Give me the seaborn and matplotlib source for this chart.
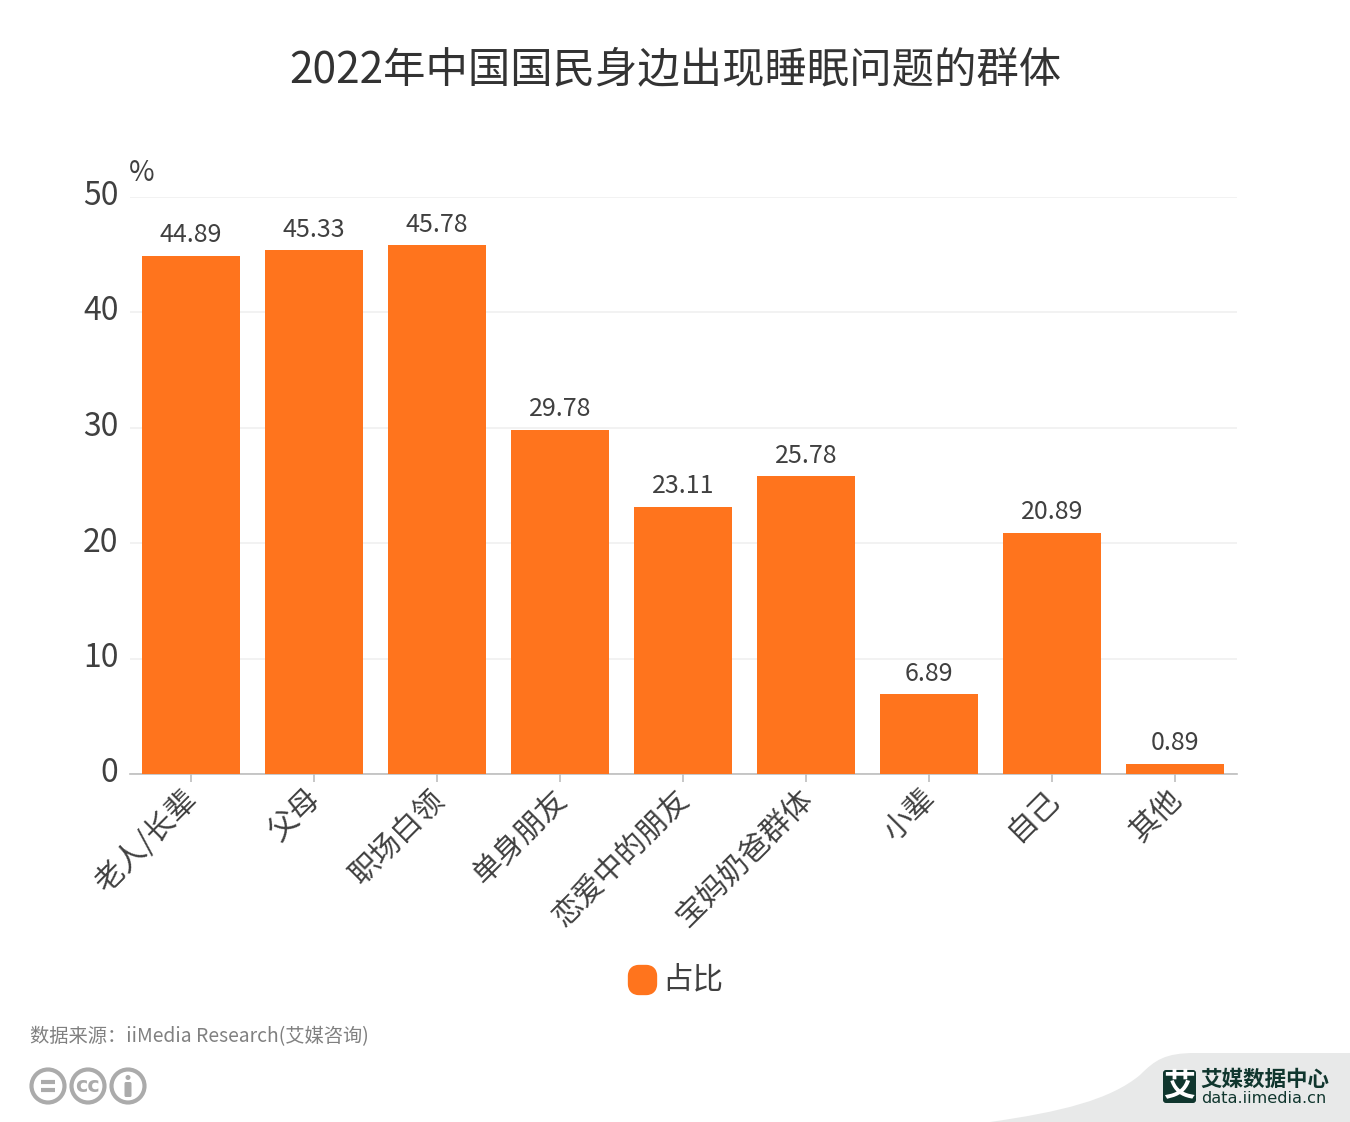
import matplotlib
matplotlib.use('Agg')
import matplotlib.pyplot as plt
from matplotlib.patches import Circle, FancyBboxPatch, PathPatch
from matplotlib.path import Path
from matplotlib.transforms import ScaledTranslation
import seaborn as sns
import pandas as pd

categories = ['老人/长辈', '父母', '职场白领', '单身朋友', '恋爱中的朋友', '宝妈奶爸群体', '小辈', '自己', '其他']
values = [44.89, 45.33, 45.78, 29.78, 23.11, 25.78, 6.89, 20.89, 0.89]
y_ticks = [0, 10, 20, 30, 40, 50]
series_name = '占比'
title = '2022年中国国民身边出现睡眠问题的群体'
source = '数据来源：iiMedia Research(艾媒咨询)'

ORANGE = '#FF741D'
TEXT = '#404040'
W, H = 1350, 1122

sns.set_style('white')
plt.rcParams['font.family'] = ['Noto Sans CJK SC', 'DejaVu Sans']

df = pd.DataFrame({'group': categories, 'value': values})

fig = plt.figure(figsize=(W / 100, H / 100), dpi=100)
ax = fig.add_axes([129.5 / W, 1 - 774 / H, (1236.5 - 129.5) / W, (774 - 196.5) / H])

sns.barplot(data=df, x='group', y='value', color=ORANGE, saturation=1, width=0.8, linewidth=0, ax=ax, zorder=3)
ax.set_xlim(-0.5, len(categories) - 0.5)
ax.set_ylim(0, 50)
ax.set_xlabel('')
ax.set_ylabel('')

# value labels
for container in ax.containers:
    ax.bar_label(container, labels=[f'{v:.2f}' for v in values], padding=5.5, fontsize=18, color=TEXT,
                 fontweight='light')

ax.set_yticks(y_ticks)
ax.yaxis.grid(True, color='#F0F0F0', lw=1.2)
ax.set_axisbelow(True)
sns.despine(ax=ax, left=True, top=True, right=True)
ax.spines['bottom'].set_color('#BDBDBD')
ax.spines['bottom'].set_linewidth(1.2)
ax.tick_params(axis='y', length=0, labelsize=23, labelcolor=TEXT, pad=8)
ax.tick_params(axis='x', bottom=True, length=6, width=1.2, color='#BDBDBD', pad=3)
ax.set_xticks(range(len(categories)))
ax.set_xticklabels(categories, rotation=45, ha='right', va='top', rotation_mode='anchor',
                   fontsize=21.5, color=TEXT, fontweight='light')

# labels sit a bit off from where matplotlib puts them
for lab in ax.get_yticklabels():
    lab.set_fontweight('light')
    lab.set_transform(lab.get_transform() + ScaledTranslation(0, 4 / 100, fig.dpi_scale_trans))
for lab in ax.get_xticklabels():
    lab.set_transform(lab.get_transform() + ScaledTranslation(-9 / 100, 3 / 100, fig.dpi_scale_trans))

# overlay in pixel coordinates for everything outside the plot
ov = fig.add_axes([0, 0, 1, 1], zorder=5)
ov.set_xlim(0, W)
ov.set_ylim(H, 0)
ov.axis('off')
ov.patch.set_alpha(0)

ov.text(675, 70, title, ha='center', va='center', fontsize=30.5, color='#333333', fontweight='light')
ov.text(142, 173, '%', ha='center', va='center', fontsize=20, color=TEXT, fontweight='light')

# legend
ov.add_patch(FancyBboxPatch((632, 969), 21, 22, boxstyle='round,pad=0,rounding_size=7',
                            mutation_aspect=1, fc=ORANGE, ec=ORANGE, lw=6, joinstyle='round'))
ov.text(662, 980, series_name, ha='left', va='center', fontsize=22, color=TEXT, fontweight='light')

ov.text(30, 1037, source, ha='left', va='center', fontsize=13.9, color='#808080', fontweight='light')

# licence icons
GREY = '#ABABAB'
for cx in (48, 88, 128):
    ov.add_patch(Circle((cx, 1086), 16.5, fc='white', ec=GREY, lw=3))
ov.plot([41, 55], [1082, 1082], color=GREY, lw=3, solid_capstyle='butt')
ov.plot([41, 55], [1090, 1090], color=GREY, lw=3, solid_capstyle='butt')
ov.text(88, 1086, 'cc', ha='center', va='center', fontsize=15, color=GREY,
        family='DejaVu Sans', fontweight='bold')
ov.add_patch(Circle((128, 1077.5), 2.5, fc=GREY, ec='none'))
ov.add_patch(FancyBboxPatch((124.5, 1082), 7, 15, boxstyle='round,pad=0,rounding_size=1.5', fc=GREY, ec='none'))

# watermark swoosh
swoosh = Path(
    [(990, 1122), (1060, 1112), (1110, 1100), (1140, 1075), (1155, 1060), (1165, 1053), (1195, 1053),
     (1350, 1053), (1350, 1122), (990, 1122)],
    [Path.MOVETO, Path.CURVE4, Path.CURVE4, Path.CURVE4, Path.CURVE4, Path.CURVE4, Path.CURVE4,
     Path.LINETO, Path.LINETO, Path.CLOSEPOLY])
ov.add_patch(PathPatch(swoosh, fc='#E8E9E9', ec='none'))
ov.add_patch(FancyBboxPatch((1163, 1070), 33, 33, boxstyle='round,pad=0,rounding_size=3', fc='#10362E', ec='none'))
ov.text(1179.5, 1086, '艾', ha='center', va='center', fontsize=23, color='white', fontweight='bold')
ov.text(1200, 1079.5, '艾媒数据中心', ha='left', va='center', fontsize=15.5, color='#10362E', fontweight='bold')
ov.text(1201, 1098.5, 'data.iimedia.cn', ha='left', va='center', fontsize=11.6, color='#10362E', family='DejaVu Sans')

fig.savefig('out.png', dpi=100, facecolor='white')
